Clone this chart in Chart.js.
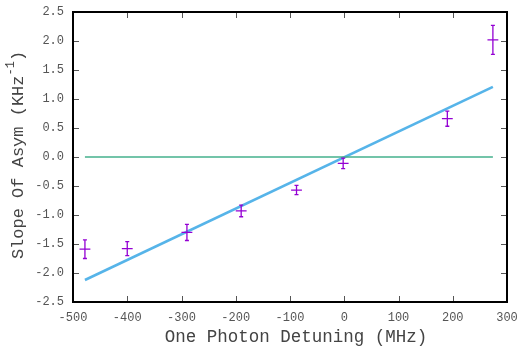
<!DOCTYPE html>
<html><head><meta charset="utf-8">
<script src="https://cdn.jsdelivr.net/npm/chart.js@4"></script>
<style>html,body{margin:0;padding:0;background:#fff}canvas{display:block}</style>
</head><body>
<canvas id="c" width="519" height="348"></canvas>
<script>
// Measured data (One photon detuning in MHz vs slope of asymmetry in KHz^-1)
const detuning    = [-478, -400, -290, -190, -88, -2, 190, 274];
const slope       = [-1.59, -1.58, -1.30, -0.93, -0.57, -0.11, 0.66, 2.02];
const slopeErr    = [0.16, 0.12, 0.14, 0.10, 0.08, 0.09, 0.13, 0.25];
const detuningErr = [10, 10, 10, 10, 10, 10, 10, 10];
// Linear fit line endpoints
const fitX = [-478, 274];
const fitY = [-2.12, 1.21];
// Zero reference line
const zeroX = [-478, 274];
const zeroY = [0, 0];
// Tick labels
const xTicks = [-500, -400, -300, -200, -100, 0, 100, 200, 300];
const yTicks = [-2.5, -2.0, -1.5, -1.0, -0.5, 0.0, 0.5, 1.0, 1.5, 2.0, 2.5];

const FONT = "'Liberation Mono', 'Courier New', monospace";
const PURPLE = '#9400d3';

const errorBarPlugin = {
  id: 'errbars',
  afterDatasetsDraw(chart) {
    const {ctx, scales: {x, y}} = chart;
    ctx.save();
    ctx.strokeStyle = PURPLE;
    ctx.lineWidth = 1.3;
    for (let i = 0; i < detuning.length; i++) {
      const px = x.getPixelForValue(detuning[i]);
      const py = y.getPixelForValue(slope[i]);
      const yTop = y.getPixelForValue(slope[i] + slopeErr[i]);
      const yBot = y.getPixelForValue(slope[i] - slopeErr[i]);
      const xL = x.getPixelForValue(detuning[i] - detuningErr[i]);
      const xR = x.getPixelForValue(detuning[i] + detuningErr[i]);
      ctx.beginPath();
      ctx.moveTo(px, yTop); ctx.lineTo(px, yBot);
      ctx.moveTo(px - 2, yTop); ctx.lineTo(px + 2, yTop);
      ctx.moveTo(px - 2, yBot); ctx.lineTo(px + 2, yBot);
      ctx.moveTo(xL, py); ctx.lineTo(xR, py);
      ctx.stroke();
    }
    ctx.restore();
  }
};

const framePlugin = {
  id: 'frame',
  afterDraw(chart) {
    const {ctx, chartArea: a, scales: {x, y}} = chart;
    ctx.save();
    // inward ticks
    ctx.strokeStyle = '#555';
    ctx.lineWidth = 1;
    ctx.beginPath();
    xTicks.forEach(v => {
      const px = Math.round(x.getPixelForValue(v)) + 0.5;
      ctx.moveTo(px, a.bottom); ctx.lineTo(px, a.bottom - 6);
      ctx.moveTo(px, a.top); ctx.lineTo(px, a.top + 6);
    });
    yTicks.forEach(v => {
      const py = Math.round(y.getPixelForValue(v)) + 0.5;
      ctx.moveTo(a.left, py); ctx.lineTo(a.left + 6, py);
      ctx.moveTo(a.right, py); ctx.lineTo(a.right - 6, py);
    });
    ctx.stroke();
    // border box
    ctx.strokeStyle = '#000';
    ctx.lineWidth = 2;
    ctx.strokeRect(a.left, a.top, a.right - a.left, a.bottom - a.top);
    // axis titles
    ctx.fillStyle = '#444';
    ctx.font = '17.5px ' + FONT;
    ctx.textAlign = 'center';
    ctx.textBaseline = 'middle';
    ctx.fillText('One Photon Detuning (MHz)', (a.left + a.right) / 2 + 6, 337);
    // y title with superscript
    ctx.translate(18, (a.top + a.bottom) / 2 - 2);
    ctx.rotate(-Math.PI / 2);
    const main = 'Slope Of Asym (KHz';
    const sup = '-1';
    const close = ')';
    ctx.font = '17px ' + FONT;
    const wMain = ctx.measureText(main).width;
    const wClose = ctx.measureText(close).width;
    ctx.font = '12px ' + FONT;
    const wSup = ctx.measureText(sup).width;
    const total = wMain + wSup + wClose;
    let cx = -total / 2;
    ctx.textAlign = 'left';
    ctx.font = '17px ' + FONT;
    ctx.fillText(main, cx, 0); cx += wMain;
    ctx.font = '12px ' + FONT;
    ctx.fillText(sup, cx, -7); cx += wSup;
    ctx.font = '17px ' + FONT;
    ctx.fillText(close, cx, 0);
    ctx.restore();
  }
};

new Chart(document.getElementById('c'), {
  type: 'scatter',
  data: {
    datasets: [
      {
        label: 'zero',
        data: zeroX.map((v, i) => ({x: v, y: zeroY[i]})),
        showLine: true, borderColor: '#44b08c', borderWidth: 1.5,
        pointRadius: 0, fill: false
      },
      {
        label: 'fit',
        data: fitX.map((v, i) => ({x: v, y: fitY[i]})),
        showLine: true, borderColor: '#56b4e9', borderWidth: 2.6,
        pointRadius: 0, fill: false
      },
      {
        label: 'data',
        data: detuning.map((v, i) => ({x: v, y: slope[i]})),
        pointRadius: 0, showLine: false
      }
    ]
  },
  options: {
    responsive: false,
    animation: false,
    layout: {padding: {top: 12, right: 12, left: 0, bottom: 0}},
    plugins: {legend: {display: false}, tooltip: {enabled: false}},
    scales: {
      x: {
        type: 'linear', min: -500, max: 300,
        afterBuildTicks: s => { s.ticks = xTicks.map(v => ({value: v})); },
        afterFit: s => { s.height = 46; s.paddingLeft = 0; s.paddingRight = 0; },
        grid: {display: false, drawTicks: false},
        border: {display: false},
        ticks: {padding: 9, color: '#555', font: {family: FONT, size: 12}, maxRotation: 0,
                callback: v => String(v)}
      },
      y: {
        type: 'linear', min: -2.5, max: 2.5,
        afterBuildTicks: s => { s.ticks = yTicks.map(v => ({value: v})); },
        afterFit: s => { s.width = 73; s.paddingTop = 0; s.paddingBottom = 0; },
        grid: {display: false, drawTicks: false},
        border: {display: false},
        ticks: {padding: 9, color: '#555', font: {family: FONT, size: 12},
                callback: v => Number(v).toFixed(1)}
      }
    }
  },
  plugins: [errorBarPlugin, framePlugin]
});
</script>
</body></html>
